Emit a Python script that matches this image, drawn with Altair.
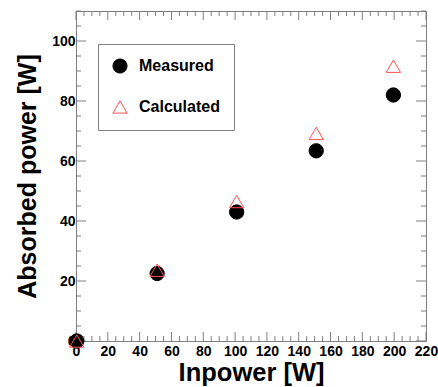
import altair as alt
import pandas as pd

# data
inpower = [0.5, 51, 101, 151, 199.5]
measured = [0, 22.5, 43, 63.4, 82]
calculated = [0, 23.6, 46.5, 69.2, 91.6]
series_names = ["Measured", "Calculated"]

x_labels = [0, 20, 40, 60, 80, 100, 120, 140, 160, 180, 200, 220]
y_labels = [0, 20, 40, 60, 80, 100]
x_minor = [v for v in range(0, 221, 5) if v % 20 != 0]
x_major = [v for v in range(0, 221, 20)]
y_minor = [v for v in range(0, 111, 5) if v % 20 != 0]
y_major = [v for v in range(0, 111, 20)]

W, H = 350, 330
FONT = "Liberation Sans"
GRAY = "#7f7f7f"
RED = "#ff5050"

rows = []
for name, vals in zip(series_names, [measured, calculated]):
    for xv, yv in zip(inpower, vals):
        rows.append({"inpower": xv, "absorbed": yv, "series": name})
df = pd.DataFrame(rows)

xscale = alt.Scale(domain=[0, 220], nice=False, zero=False)
yscale = alt.Scale(domain=[0, 110], nice=False, zero=False)

x_axis = alt.Axis(
    values=x_labels, title="Inpower [W]", domain=False, ticks=False,
    grid=False, labelPadding=3, titlePadding=2, labelOverlap=False,
    labelFlush=False, titleFontSize=25.5,
)
y_axis = alt.Axis(
    values=y_labels, title="Absorbed power [W]", domain=False, ticks=False,
    grid=False, labelPadding=1, titlePadding=11, labelOverlap=False,
    labelFlush=False, titleFontSize=25,
)

legend = alt.Legend(
    title=None,
    orient="none",
    legendX=22,
    legendY=33,
    strokeColor=GRAY,
    padding=14,
    rowPadding=22,
    symbolSize=200,
    symbolStrokeWidth=1,
    labelFont=FONT,
    labelFontWeight="bold",
    labelFontSize=16,
    labelColor="black",
    labelOffset=11,
    labelExpr="datum.label + '\u00a0\u00a0\u00a0\u00a0'",
)


def xticks(vals, length):
    d = pd.DataFrame({"v": vals})
    bottom = alt.Chart(d).mark_rule(color=GRAY, strokeWidth=1).encode(
        x=alt.X("v:Q", scale=xscale, axis=x_axis), y=alt.value(H), y2=alt.value(H - length)
    )
    top = alt.Chart(d).mark_rule(color=GRAY, strokeWidth=1).encode(
        x=alt.X("v:Q", scale=xscale, axis=x_axis), y=alt.value(0), y2=alt.value(length)
    )
    return [bottom, top]


def yticks(vals, length):
    d = pd.DataFrame({"v": vals})
    left = alt.Chart(d).mark_rule(color=GRAY, strokeWidth=1).encode(
        y=alt.Y("v:Q", scale=yscale, axis=y_axis), x=alt.value(0), x2=alt.value(length)
    )
    right = alt.Chart(d).mark_rule(color=GRAY, strokeWidth=1).encode(
        y=alt.Y("v:Q", scale=yscale, axis=y_axis), x=alt.value(W), x2=alt.value(W - length)
    )
    return [left, right]


points = alt.Chart(df).mark_point(size=205, strokeWidth=1, opacity=1).encode(
    x=alt.X("inpower:Q", scale=xscale, axis=x_axis),
    y=alt.Y("absorbed:Q", scale=yscale, axis=y_axis),
    shape=alt.Shape("series:N", scale=alt.Scale(domain=series_names, range=["circle", "triangle-up"]), legend=legend),
    fill=alt.Fill("series:N", scale=alt.Scale(domain=series_names, range=["#000000", "transparent"]), legend=legend),
    stroke=alt.Stroke("series:N", scale=alt.Scale(domain=series_names, range=["#000000", RED]), legend=legend),
    order=alt.Order("order:Q"),
).transform_calculate(order="datum.series == 'Measured' ? 0 : 1")

layers = (
    xticks(x_minor, 5) + xticks(x_major, 9)
    + yticks(y_minor, 5) + yticks(y_major, 10)
    + [points]
)

chart = alt.layer(*layers).properties(
    width=W,
    height=H,
    autosize=alt.AutoSizeParams(type="none"),
    padding={"left": 76, "top": 11, "right": 12, "bottom": 46},
).configure_view(
    stroke=GRAY, strokeWidth=1
).configure_axis(
    labelFont=FONT, labelFontWeight="bold", labelFontSize=14, labelColor="black",
    titleFont=FONT, titleFontWeight="bold", titleColor="black",
)

chart.save("out.html", embed_options={"renderer": "svg", "actions": False})
